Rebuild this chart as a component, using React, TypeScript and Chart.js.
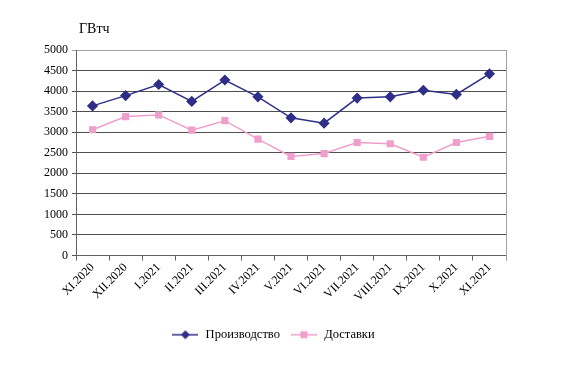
import React, { useEffect, useRef } from "react";
import { Chart, registerables } from "chart.js";

Chart.register(...registerables);

const categories = [
  "XI.2020", "XII.2020", "I.2021", "II.2021", "III.2021", "IV.2021", "V.2021",
  "VI.2021", "VII.2021", "VIII.2021", "IX.2021", "X.2021", "XI.2021",
];
const production = [3640, 3890, 4160, 3750, 4270, 3860, 3350, 3220, 3830, 3860, 4020, 3920, 4420];
const deliveries = [3060, 3380, 3420, 3050, 3280, 2830, 2410, 2480, 2750, 2720, 2390, 2750, 2900];
const yTicks = [0, 500, 1000, 1500, 2000, 2500, 3000, 3500, 4000, 4500, 5000];
const unitLabel = "ГВтч";
const seriesNames = ["Производство", "Доставки"];

const NAVY = "#2f2f88";
const PINK = "#ef9fcb";
const FONT = "Liberation Serif, serif";

Chart.defaults.font.family = FONT;

function legendIcon(color: string, style: "diamond" | "square") {
  const c = document.createElement("canvas");
  c.width = 26;
  c.height = 10;
  const g = c.getContext("2d")!;
  g.strokeStyle = color;
  g.lineWidth = 1.5;
  g.beginPath();
  g.moveTo(0, 5);
  g.lineTo(26, 5);
  g.stroke();
  g.fillStyle = color;
  if (style === "diamond") {
    g.beginPath();
    g.moveTo(13, 0.5);
    g.lineTo(17.5, 5);
    g.lineTo(13, 9.5);
    g.lineTo(8.5, 5);
    g.closePath();
    g.fill();
  } else {
    g.fillRect(9.5, 1.5, 7, 7);
  }
  return c;
}

export default function App() {
  const ref = useRef<HTMLCanvasElement | null>(null);
  useEffect(() => {
    if (!ref.current) return;
    const icons = [legendIcon(NAVY, "diamond"), legendIcon(PINK, "square")];
    const frame = {
      id: "frame",
      afterLayout(chart: any) {
        if (chart.legend) {
          chart.legend.left += 20;
          chart.legend.right += 20;
        }
      },
      afterDraw(chart: any) {
        const { ctx, chartArea } = chart;
        ctx.save();
        ctx.strokeStyle = "#a0a0a0";
        ctx.lineWidth = 1;
        ctx.beginPath();
        ctx.moveTo(Math.round(chartArea.right) + 0.5, chartArea.top);
        ctx.lineTo(Math.round(chartArea.right) + 0.5, chartArea.bottom + 5);
        ctx.stroke();
        ctx.fillStyle = "#000";
        ctx.font = `14px ${FONT}`;
        ctx.textBaseline = "middle";
        ctx.fillText(unitLabel, chartArea.left + 3, chartArea.top - 21);
        ctx.restore();
      },
    };
    const chart = new Chart(ref.current, {
      type: "line",
      data: {
        labels: categories,
        datasets: [
          {
            label: seriesNames[0],
            data: production,
            borderColor: NAVY,
            backgroundColor: NAVY,
            borderWidth: 1.5,
            pointStyle: "rectRot",
            pointRadius: 4.5,
            pointHoverRadius: 4.5,
            tension: 0,
          },
          {
            label: seriesNames[1],
            data: deliveries,
            borderColor: PINK,
            backgroundColor: PINK,
            borderWidth: 1.5,
            pointStyle: "rect",
            pointRadius: 4,
            pointHoverRadius: 4,
            tension: 0,
          },
        ],
      },
      options: {
        responsive: false,
        animation: false,
        layout: { padding: { left: 0, right: 70, top: 50, bottom: 16 } },
        plugins: {
          tooltip: { enabled: false },
          legend: {
            position: "bottom",
            labels: {
              usePointStyle: true,
              pointStyleWidth: 28,
              boxHeight: 10,
              padding: 10,
              color: "#000",
              font: { family: FONT, size: 12.5 },
              generateLabels: (ch: any) =>
                ch.data.datasets.map((d: any, i: number) => ({
                  text: d.label,
                  pointStyle: icons[i],
                  fillStyle: d.borderColor,
                  strokeStyle: d.borderColor,
                  lineWidth: 0,
                  datasetIndex: i,
                  hidden: false,
                })),
            },
          },
        },
        scales: {
          x: {
            type: "category",
            offset: true,
            afterFit: (s: any) => {
              s.height = 63;
            },
            grid: {
              offset: true,
              drawOnChartArea: false,
              drawTicks: true,
              tickLength: 5,
              color: "#606060",
            },
            border: { color: "#606060", width: 1 },
            ticks: {
              minRotation: 45,
              maxRotation: 45,
              autoSkip: false,
              color: "#000",
              padding: 0,
              font: { family: FONT, size: 12 },
            },
          },
          y: {
            min: 0,
            max: 5000,
            afterFit: (s: any) => {
              s.width = 76;
            },
            afterBuildTicks: (s: any) => {
              s.ticks = yTicks.map((v) => ({ value: v }));
            },
            grid: {
              color: (c: any) => (c.tick && c.tick.value === 5000 ? "#a0a0a0" : "#505050"),
              tickLength: 4,
            },
            border: { color: "#606060", width: 1 },
            ticks: {
              color: "#000",
              padding: 4,
              font: { family: FONT, size: 12 },
              callback: (v: any) => String(v),
            },
          },
        },
      },
      plugins: [frame],
    });
    return () => chart.destroy();
  }, []);
  return (
    <div style={{ position: "absolute", left: 0, top: 0, width: 576, height: 367 }}>
      <canvas ref={ref} width={576} height={367} />
    </div>
  );
}
